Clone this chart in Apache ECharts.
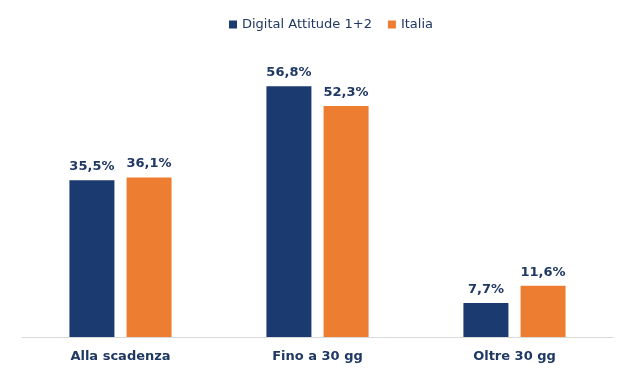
<!DOCTYPE html>
<html><head><meta charset="utf-8">
<script src="https://cdn.jsdelivr.net/npm/echarts@6/dist/echarts.min.js"></script>
<style>html,body{margin:0;padding:0;background:#fff}#c{width:630px;height:378px}</style>
</head><body><div id="c"></div>
<script>
const categories = ['Alla scadenza', 'Fino a 30 gg', 'Oltre 30 gg'];
const digitalAttitude = [35.5, 56.8, 7.7];
const italia = [36.1, 52.3, 11.6];
const seriesNames = ['Digital Attitude 1+2', 'Italia'];

const fmt = p => p.value.toFixed(1).replace('.', ',') + '%';
const chart = echarts.init(document.getElementById('c'), null, {renderer: 'canvas'});
const labelStyle = {show: true, position: 'top', distance: 7, formatter: fmt,
  color: '#1F3864', fontWeight: 'bold', fontSize: 13, fontFamily: 'DejaVu Sans'};
chart.setOption({
  animation: false,
  legend: {top: 13, left: 224, itemWidth: 8, itemHeight: 8, itemGap: 16,
    icon: 'rect',
    textStyle: {color: '#1F3864', fontSize: 13, fontFamily: 'DejaVu Sans'},
    data: seriesNames},
  grid: {left: 22, right: 17, top: 72, bottom: 41},
  xAxis: {type: 'category', data: categories,
    axisLine: {lineStyle: {color: '#D9D9D9', width: 1}},
    axisTick: {show: false},
    axisLabel: {color: '#1F3864', fontWeight: 'bold', fontSize: 13, fontFamily: 'DejaVu Sans', margin: 13}},
  yAxis: {type: 'value', min: 0, max: 60, show: false, splitLine: {show: false}},
  series: [
    {name: seriesNames[0], type: 'bar', data: digitalAttitude, barWidth: 45, barGap: '27%',
      itemStyle: {color: '#1B3A6F'}, label: labelStyle},
    {name: seriesNames[1], type: 'bar', data: italia, barWidth: 45,
      itemStyle: {color: '#ED7D31'}, label: labelStyle}
  ]
});
</script></body></html>
